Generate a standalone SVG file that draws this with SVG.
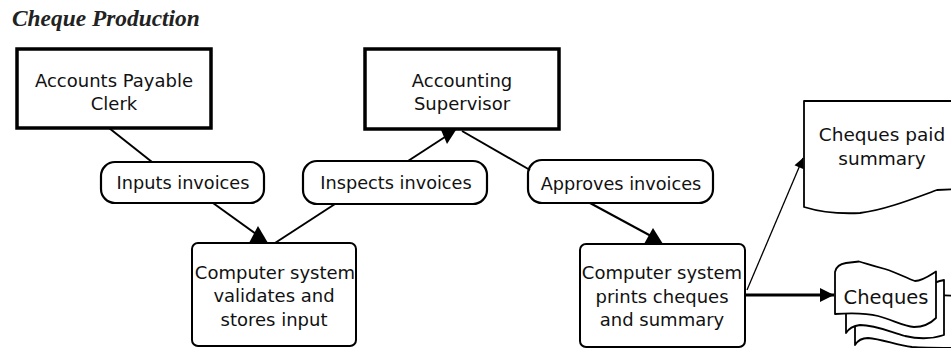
<svg xmlns="http://www.w3.org/2000/svg" width="951" height="348" viewBox="0 0 951 348">
  <style>
    .title { font-family: "Liberation Serif", serif; font-weight: bold; font-style: italic; font-size: 23.4px; fill: #222; }
    .lbl { font-family: "DejaVu Sans", sans-serif; font-size: 18px; fill: #111; text-anchor: middle; }
    .pilltxt { font-size: 17.7px; }
    .boxtxt { font-size: 18px; }
    .doctxt { font-size: 18.5px; }
    .actor { fill: #fff; stroke: #000; stroke-width: 3.5; }
    .proc { fill: #fff; stroke: #000; stroke-width: 2; }
    .pill { fill: #fff; stroke: #000; stroke-width: 2.2; }
    .doc { fill: #fff; stroke: #000; stroke-width: 1.8; stroke-linejoin: round; }
    .edge { fill: none; stroke: #000; stroke-width: 2; }
    .thin { stroke-width: 1.3; }
    .heavy { stroke-width: 3; }
    .head { fill: #000; }
  </style>
  <defs>
    <marker id="tip" viewBox="0 0 10 10" refX="10" refY="5" markerUnits="userSpaceOnUse" markerWidth="15" markerHeight="14" orient="auto">
      <path d="M0,0 L10,5 L0,10 z" fill="#000"/>
    </marker>
    <marker id="tipSmall" viewBox="0 0 10 10" refX="10" refY="5" markerUnits="userSpaceOnUse" markerWidth="13" markerHeight="10" orient="auto">
      <path d="M0,0 L10,5 L0,10 z" fill="#000"/>
    </marker>
  </defs>

  <rect width="951" height="348" fill="#fff"/>
  <text class="title" x="12" y="26">Cheque Production</text>

  <!-- roles -->
  <g id="clerk">
    <rect class="actor" x="17" y="49" width="194" height="79"/>
    <text class="lbl" x="114" y="87">Accounts Payable</text>
    <text class="lbl" x="114" y="110">Clerk</text>
  </g>
  <g id="supervisor">
    <rect class="actor" x="365" y="49" width="194" height="80"/>
    <text class="lbl" x="462" y="87">Accounting</text>
    <text class="lbl" x="462" y="110">Supervisor</text>
  </g>

  <!-- activities -->
  <g id="inputs">
    <rect class="pill" x="101" y="162" width="163" height="41" rx="14"/>
    <text class="lbl pilltxt" x="183" y="189">Inputs invoices</text>
  </g>
  <g id="inspects">
    <rect class="pill" x="303" y="161" width="184" height="43" rx="14"/>
    <text class="lbl pilltxt" x="396" y="189">Inspects invoices</text>
  </g>
  <g id="approves">
    <rect class="pill" x="528" y="160" width="185" height="43" rx="14"/>
    <text class="lbl pilltxt" x="621" y="190">Approves invoices</text>
  </g>

  <!-- system steps -->
  <g id="validate">
    <rect class="proc" x="192" y="243" width="164" height="103" rx="6"/>
    <text class="lbl boxtxt" x="275" y="279">Computer system</text>
    <text class="lbl boxtxt" x="274" y="302">validates and</text>
    <text class="lbl boxtxt" x="274" y="326">stores input</text>
  </g>
  <g id="print">
    <rect class="proc" x="580" y="244" width="165" height="103" rx="6"/>
    <text class="lbl boxtxt" x="662" y="279">Computer system</text>
    <text class="lbl boxtxt" x="662" y="303">prints cheques</text>
    <text class="lbl boxtxt" x="662" y="326">and summary</text>
  </g>

  <!-- outputs -->
  <g id="summary">
    <path class="doc" d="M960,101 L804,101 L804,207 C820,212 840,214 860,213 C885,210 915,198 937,190 L960,189"/>
    <text class="lbl doctxt" x="882" y="141">Cheques paid</text>
    <text class="lbl doctxt" x="882" y="165">summary</text>
  </g>
  <g id="cheques">
    <path class="doc" d="M855,292 L855,345 C858,340 862,338 868,338 C882,339 896,345 912,347 C925,348 940,348 960,348 L960,296 Z"/>
    <path class="doc" d="M846,288 L846,333 C849,328 853,326 860,325 C875,325 888,331 905,336 C918,339 932,339 944,335 L944,280 C935,282 925,286 912,288 Z"/>
    <path class="doc" d="M835,272 C836,267 839,264 846,263 L859,261.5 C865,263 870,265 885,269 C898,273 906,278 915,281 C922,281 929,276 936,271.5 L936,318 C931,323 925,327 914,327 C903,326 893,320 878,316 C866,313 850,313 835,314 Z"/>
    <text class="lbl" x="886" y="304" style="font-size:19.5px">Cheques</text>
  </g>

  <!-- connectors -->
  <g id="connectors">
    <path class="edge" d="M109,128 L152,162"/>
    <path class="edge" d="M213,203 L256,234"/>
    <polygon class="head" points="249,243 268,243 258,226"/>
    <path class="edge" d="M275,243 L335,204"/>
    <path class="edge" d="M408,161 L448,135"/>
    <polygon class="head" points="441,130 456,130 447,144"/>
    <path class="edge" d="M462,131 L530,170"/>
    <path class="edge" d="M590,203 L651,236"/>
    <polygon class="head" points="644,244 663,244 653,228"/>
    <path class="edge thin" d="M747,290 L803,158" marker-end="url(#tipSmall)"/>
    <path class="edge heavy" d="M745,295 L834,295" marker-end="url(#tip)"/>
  </g>
</svg>
